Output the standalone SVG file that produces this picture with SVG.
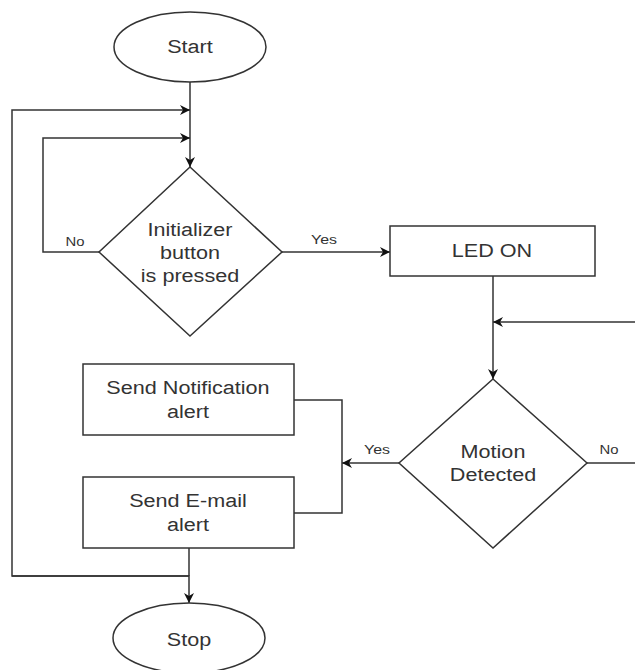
<svg xmlns="http://www.w3.org/2000/svg" width="635" height="670" viewBox="0 0 635 670">
<style>
.s{fill:#fff;stroke:#333;stroke-width:1.5}
.c{fill:none;stroke:#333;stroke-width:1.5}
.t{font-family:"Liberation Sans",Arial,sans-serif;font-size:18px;fill:#333;text-anchor:middle;dominant-baseline:central}
.l{font-family:"Liberation Sans",Arial,sans-serif;font-size:12.5px;fill:#333;text-anchor:middle;dominant-baseline:central}
</style>
<defs>
<marker id="a" viewBox="0 0 10 10" refX="10" refY="5" markerWidth="10" markerHeight="10" markerUnits="userSpaceOnUse" orient="auto">
<path d="M0,0 L10,5 L0,10 L3,5 Z" fill="#111"/>
</marker>
</defs>
<rect width="635" height="670" fill="#fff"/>
<g id="connectors">
<path class="c" d="M190,82 V167" marker-end="url(#a)"/>
<path class="c" d="M189,548 V576" />
<path class="c" d="M12,576 H189 V603" marker-end="url(#a)"/>
<path class="c" d="M189,576 H12 V110 H190" marker-end="url(#a)"/>
<path class="c" d="M99,252 H43 V138 H190" marker-end="url(#a)"/>
<path class="c" d="M282,252 H390" marker-end="url(#a)"/>
<path class="c" d="M493,276 V379" marker-end="url(#a)"/>
<path class="c" d="M635,322 H493" marker-end="url(#a)"/>
<path class="c" d="M587,463 H635"/>
<path class="c" d="M399,463 H342" marker-end="url(#a)"/>
<path class="c" d="M294,400 H342 V513 H294"/>
<text class="l" x="75" y="242" textLength="19" lengthAdjust="spacingAndGlyphs">No</text>
<text class="l" x="324" y="240" textLength="26" lengthAdjust="spacingAndGlyphs">Yes</text>
<text class="l" x="377" y="450" textLength="26" lengthAdjust="spacingAndGlyphs">Yes</text>
<text class="l" x="609" y="450" textLength="19" lengthAdjust="spacingAndGlyphs">No</text>
</g>
<g id="start">
<ellipse class="s" cx="190" cy="47" rx="76" ry="35"/>
<text class="t" x="190" y="47" textLength="45.6" lengthAdjust="spacingAndGlyphs">Start</text>
</g>
<g id="initializer">
<polygon class="s" points="190,167 282,252 190,336 99,252"/>
<text class="t" x="190" y="230" textLength="85" lengthAdjust="spacingAndGlyphs">Initializer</text>
<text class="t" x="190" y="253" textLength="60" lengthAdjust="spacingAndGlyphs">button</text>
<text class="t" x="190" y="276" textLength="98.4" lengthAdjust="spacingAndGlyphs">is pressed</text>
</g>
<g id="led">
<rect class="s" x="390" y="226" width="205" height="50"/>
<text class="t" x="492" y="251" textLength="80.4" lengthAdjust="spacingAndGlyphs">LED ON</text>
</g>
<g id="motion">
<polygon class="s" points="493,379 587,463 493,548 399,463"/>
<text class="t" x="493" y="452" textLength="64.8" lengthAdjust="spacingAndGlyphs">Motion</text>
<text class="t" x="493" y="475" textLength="86.4" lengthAdjust="spacingAndGlyphs">Detected</text>
</g>
<g id="notify">
<rect class="s" x="83" y="364" width="211" height="71"/>
<text class="t" x="188" y="388" textLength="163.3" lengthAdjust="spacingAndGlyphs">Send Notification</text>
<text class="t" x="188" y="412" textLength="42" lengthAdjust="spacingAndGlyphs">alert</text>
</g>
<g id="email">
<rect class="s" x="83" y="477" width="211" height="71"/>
<text class="t" x="188" y="501" textLength="117.6" lengthAdjust="spacingAndGlyphs">Send E-mail</text>
<text class="t" x="188" y="525" textLength="42" lengthAdjust="spacingAndGlyphs">alert</text>
</g>
<g id="stop">
<ellipse class="s" cx="189" cy="638" rx="76" ry="35"/>
<text class="t" x="189" y="640" textLength="44.4" lengthAdjust="spacingAndGlyphs">Stop</text>
</g>
</svg>
